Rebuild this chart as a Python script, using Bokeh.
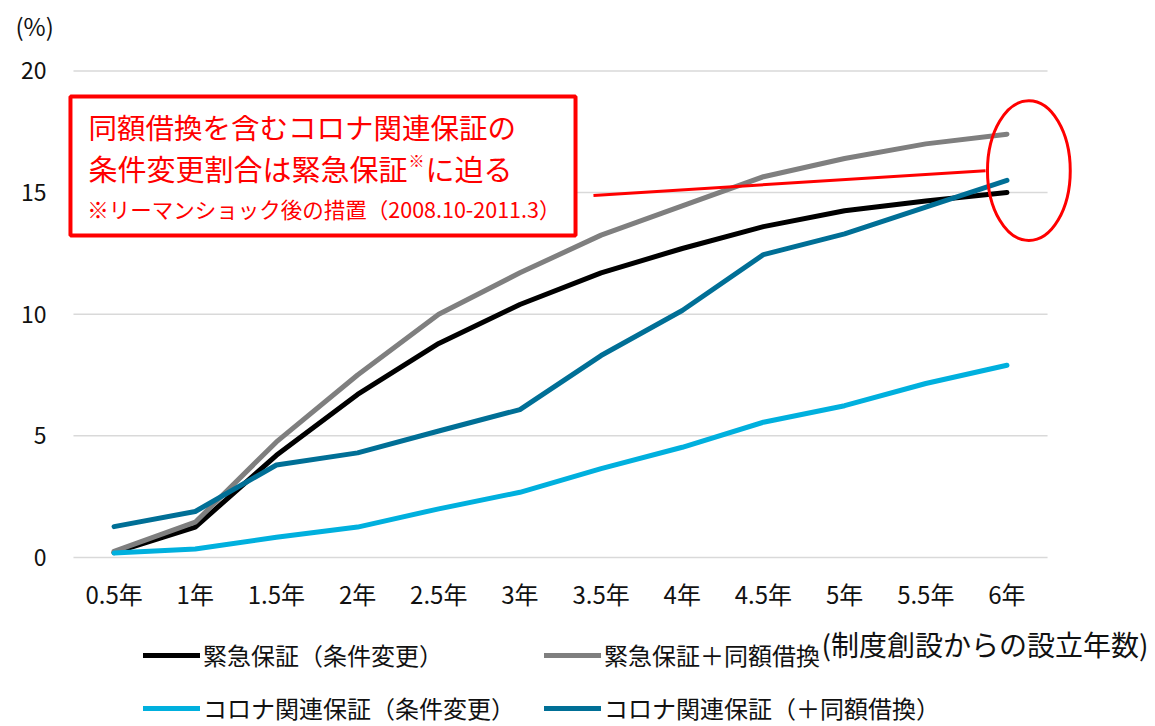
from bokeh.plotting import figure
from bokeh.models import Range1d, FixedTicker, Label, Legend, LegendItem
from bokeh.embed import file_html
from bokeh.resources import INLINE

# ---------------- data ----------------
categories = ["0.5年", "1年", "1.5年", "2年", "2.5年", "3年",
              "3.5年", "4年", "4.5年", "5年", "5.5年", "6年"]
y_ticks = [0, 5, 10, 15, 20]

series_labels = ["緊急保証（条件変更）", "緊急保証＋同額借換",
                 "コロナ関連保証（条件変更）", "コロナ関連保証（＋同額借換）"]
emergency = [0.2, 1.25, 4.2, 6.7, 8.8, 10.4, 11.7, 12.7, 13.6, 14.25, 14.65, 15.0]
emergency_refi = [0.25, 1.45, 4.75, 7.5, 10.0, 11.7, 13.25, 14.45, 15.65, 16.4, 17.0, 17.4]
corona = [0.18, 0.35, 0.83, 1.25, 2.0, 2.68, 3.65, 4.53, 5.56, 6.24, 7.15, 7.9]
corona_refi = [1.27, 1.89, 3.8, 4.3, 5.2, 6.08, 8.3, 10.15, 12.45, 13.3, 14.4, 15.5]
series_colors = ["#000000", "#7F7F7F", "#00B0DE", "#006F96"]

note_line1 = "同額借換を含むコロナ関連保証の"
note_line2a = "条件変更割合は緊急保証"
note_line2b = "※"
note_line2c = "に迫る"
note_line3 = "※リーマンショック後の措置（2008.10-2011.3）"
unit_label = "(%)"
x_title = "(制度創設からの設立年数)"

FONT = "Noto Sans CJK JP"
RED = "#FF0000"
TXT = "#111111"

x = list(range(len(categories)))

# frame covers the whole canvas; axes are pinned at fixed locations inside it
p = figure(width=1155, height=726, output_backend="svg", toolbar_location=None,
           x_range=Range1d(-1.399, 12.830), y_range=Range1d(-6.946, 22.893),
           min_border_left=0, min_border_right=0, min_border_top=0,
           min_border_bottom=0)
p.outline_line_color = None
p.background_fill_color = "white"
p.border_fill_color = "white"
p.xgrid.visible = False
p.ygrid.visible = False

# horizontal gridlines spanning the category bands
n = len(y_ticks)
p.segment(x0=[-0.5] * n, x1=[len(categories) - 0.5] * n, y0=y_ticks, y1=y_ticks,
          line_color="#D9D9D9", line_width=1.5)

# axes
p.xaxis.fixed_location = 0
p.yaxis.fixed_location = -0.5
p.xaxis.ticker = FixedTicker(ticks=x)
p.xaxis.major_label_overrides = {i: c for i, c in enumerate(categories)}
p.yaxis.ticker = FixedTicker(ticks=y_ticks)
for ax in (p.xaxis, p.yaxis):
    ax.axis_line_color = None
    ax.major_tick_line_color = None
    ax.minor_tick_line_color = None
    ax.major_tick_out = 0
    ax.major_tick_in = 0
    ax.major_label_text_font = FONT
    ax.major_label_text_color = TXT
p.xaxis.major_label_text_font_size = "24px"
p.yaxis.major_label_text_font_size = "23px"
p.xaxis.major_label_standoff = 19
p.yaxis.major_label_standoff = 27

# annotation box (under lines)
p.quad(left=[-0.537], right=[5.685], top=[18.95], bottom=[13.23],
       fill_color="white", line_color=RED, line_width=4)

# series lines
renderers = []
for vals, col in zip([emergency, emergency_refi, corona, corona_refi], series_colors):
    r = p.line(x, vals, line_color=col, line_width=5, line_join="round", line_cap="round")
    renderers.append(r)

# red pointer line and ellipse
p.line([5.906, 10.736], [14.88, 15.9], line_color=RED, line_width=3)
p.ellipse(x=[11.27], y=[15.9], width=1.02, height=5.75, fill_color=None,
          line_color=RED, line_width=3)

# box texts
def lab(xv, yv, text, size, color, align="left"):
    p.add_layout(Label(x=xv, y=yv, text=text, text_font=FONT, text_font_size=size,
                       text_color=color, text_baseline="middle", text_align=align))

lab(-0.315, 17.70, note_line1, "28.5px", RED)
lab(-0.315, 15.99, note_line2a, "29px", RED)
lab(3.627, 16.32, note_line2b, "16px", RED)
lab(3.837, 15.99, note_line2c, "29px", RED)
lab(-0.33, 14.34, note_line3, "21.5px", RED)

# unit label and x title
lab(-1.2146, 21.866, unit_label, "24px", TXT)
lab(12.744, -3.55, x_title, "28px", TXT, align="right")

legend = Legend(items=[LegendItem(label=lb, renderers=[r])
                       for lb, r in zip(series_labels, renderers)],
                location=(143, 1), orientation="horizontal", ncols=2,
                label_text_font=FONT, label_text_font_size="24px", label_text_color=TXT,
                glyph_width=57, glyph_height=30, label_height=30, label_width=323,
                label_standoff=3, spacing=18, padding=0, margin=0,
                border_line_color=None, background_fill_alpha=0)
p.add_layout(legend)

open("out.html", "w").write(file_html(p, INLINE))
